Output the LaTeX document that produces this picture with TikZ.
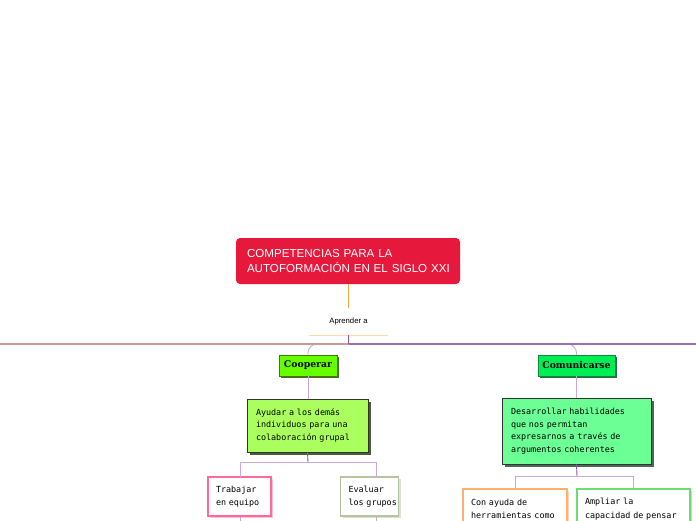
\documentclass[tikz,border=0pt]{standalone}
\usepackage{fontspec}
\setmainfont{Liberation Sans}
\newfontfamily\monof{DejaVu Sans Mono}
\newfontfamily\serifb{DejaVu Serif}
\usetikzlibrary{shadows}
\definecolor{rootred}{HTML}{E6193C}
\definecolor{orangeln}{HTML}{F7A83C}
\definecolor{ulcol}{HTML}{FFD9A6}
\definecolor{stempurple}{HTML}{8A55AC}
\definecolor{lightpurple}{HTML}{C9A8DE}
\definecolor{mainright}{HTML}{9C6DB8}
\definecolor{mainleft}{HTML}{CC9C94}
\definecolor{coopfill}{HTML}{66FF00}
\definecolor{coopdraw}{HTML}{3F7A10}
\definecolor{coopshadow}{HTML}{4F6B28}
\definecolor{comufill}{HTML}{00EE55}
\definecolor{comudraw}{HTML}{0A8A3A}
\definecolor{comushadow}{HTML}{2E6A42}
\definecolor{ayfill}{HTML}{AAFF5E}
\definecolor{ayshadow}{HTML}{4A5E3A}
\definecolor{desfill}{HTML}{6BFF95}
\definecolor{desshadow}{HTML}{4A6A55}
\definecolor{pinkb}{HTML}{FF6A96}
\definecolor{pinks}{HTML}{FFC0D2}
\definecolor{evalb}{HTML}{B5C3A0}
\definecolor{evals}{HTML}{DCE2D0}
\definecolor{orab}{HTML}{FFB070}
\definecolor{oras}{HTML}{FFD8B4}
\definecolor{grnb}{HTML}{6EDC6E}
\definecolor{grns}{HTML}{A8EEA8}
\tikzset{
  nobreak/.style={execute at begin node={\hyphenpenalty=10000\exhyphenpenalty=10000\hbadness=10000\hfuzz=100pt}},
  rootbox/.style={rectangle, rounded corners=4pt, fill=rootred, text=white,
    font=\fontsize{11.6}{15.6}\selectfont, align=left, text width=202pt,
    inner xsep=11pt, inner ysep=0pt, minimum height=46pt, nobreak},
  topicbox/.style={rectangle, draw=#1draw, fill=#1fill, line width=0.8pt,
    font=\serifb\bfseries\fontsize{9.3}{11}\selectfont, inner sep=0pt,
    minimum height=21pt,
    drop shadow={shadow xshift=2pt, shadow yshift=-2pt, fill=#1shadow, opacity=1}},
  bigbox/.style={rectangle, draw=black!80, fill=#1fill, line width=0.7pt,
    font=\monof\fontsize{8.4}{12.5}\selectfont, align=left,
    inner xsep=9pt, inner ysep=0pt, nobreak,
    drop shadow={shadow xshift=2.5pt, shadow yshift=-2.5pt, fill=#1shadow, opacity=1}},
  leafbox/.style 2 args={rectangle, draw=#1, fill=white, line width=1.1pt,
    font=\monof\fontsize{8.4}{13.5}\selectfont, align=left,
    inner xsep=8pt, inner ysep=0pt, nobreak,
    drop shadow={shadow xshift=2pt, shadow yshift=-2pt, fill=#2, opacity=1}},
  stem/.style={draw=stempurple, line width=0.9pt},
  bracket/.style={draw=lightpurple, line width=0.9pt},
}
\begin{document}
\begin{tikzpicture}[x=1pt,y=-1pt]
\useasboundingbox (0,0) rectangle (696,520);
\clip (0,0) rectangle (696,520);

% root
\node[rootbox, minimum width=224pt] (root) at (348,261)
  {COMPETENCIAS PARA LA\\AUTOFORMACIÓN~EN~EL~SIGLO~XXI};

% Aprender a
\node[font=\fontsize{7.7}{9}\selectfont, minimum width=78pt, minimum height=27pt, inner sep=0pt]
  (apr) at (348.5,321.5) {Aprender a};
\draw[draw=ulcol, line width=1pt] (apr.south west) -- (apr.south east);
\draw[draw=orangeln, line width=1.2pt] (root.south -| apr.north) -- (apr.north);

\coordinate (J) at (348.5,344);
\coordinate (Lend) at (-5,344);
\coordinate (Rend) at (701,344);

% topic nodes
\node[topicbox=coop, minimum width=58pt] (coop) at (308,365.5) {Cooperar};
\node[topicbox=comu, minimum width=77pt] (comu) at (576.5,365.5) {Comunicarse};

% branches to topics
\draw[bracket, rounded corners=9pt] (J) -| (coop.north);
\draw[bracket, rounded corners=9pt] (J) -| (comu.north);

% main line
\draw[draw=mainleft, line width=1.2pt] (J) -- (Lend);
\draw[draw=mainright, line width=1.2pt] (J) -- (Rend);
\draw[stem, line width=1.2pt] (apr.south) -- (J);

% second level
\node[bigbox=ay, text width=103pt, minimum height=53pt] (ay) at (307.5,425.5)
  {Ayudar a los demás\\individuos para una\\colaboración grupal};
\node[bigbox=des, text width=131pt, minimum height=66pt] (des) at (576.5,431)
  {Desarrollar habilidades\\que nos permitan\\expresarnos a través de\\argumentos coherentes};

\draw[bracket] (coop.south) -- (coop.south |- ay.north);
\draw[bracket] (comu.south) -- (comu.south |- des.north);

% leaves
\node[leafbox={pinkb}{pinks}, text width=47pt, minimum height=39pt] (trab) at (239.5,496.5)
  {Trabajar\\en~equipo};
\node[leafbox={evalb}{evals}, text width=42pt, minimum height=39pt] (eval) at (369.5,496.5)
  {Evaluar\\los~grupos};
\node[leafbox={orab}{oras}, text width=88pt, minimum height=40pt] (cona) at (515,509)
  {Con~ayuda~de\\herramientas~como};
\node[leafbox={grnb}{grns}, text width=97pt, minimum height=40pt] (ampl) at (633.5,509)
  {Ampliar~la\\capacidad~de~pensar};

\coordinate (ayfork) at (308,462);
\coordinate (desfork) at (577,476);
\coordinate (trabT) at (240,477);
\coordinate (evalT) at (376,477);
\draw[stem] (ay.south) -- (ayfork);
\draw[bracket] (ayfork) -| (trabT);
\draw[bracket] (ayfork) -| (evalT);
\draw[stem] (des.south) -- (desfork);
\draw[bracket] (desfork) -| (cona.north);
\draw[bracket] (desfork) -| (ampl.north);

% connectors continuing below the frame
\coordinate (trabC) at (240,530);
\coordinate (evalC) at (376,530);
\draw[bracket] (trab.south -| trabC) -- (trabC);
\draw[bracket] (eval.south -| evalC) -- (evalC);
\end{tikzpicture}
\end{document}
